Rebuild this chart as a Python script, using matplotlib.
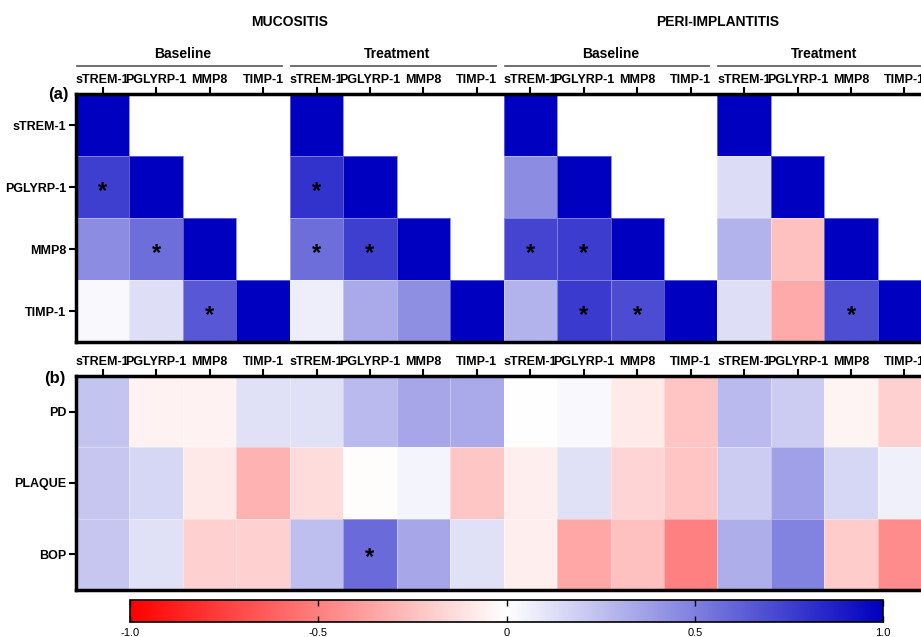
import numpy as np
import matplotlib
matplotlib.use("Agg")
import matplotlib.pyplot as plt
from matplotlib.colors import LinearSegmentedColormap
from matplotlib.lines import Line2D

plt.rcParams["font.family"] = ["Liberation Sans", "DejaVu Sans"]

markers = ["sTREM-1", "PGLYRP-1", "MMP8", "TIMP-1"]
clinical = ["PD", "PLAQUE", "BOP"]
groups = ["MUCOSITIS", "PERI-IMPLANTITIS"]
phases = ["Baseline", "Treatment"]
nan = np.nan

# (a) marker-marker correlations, lower triangle (rows/cols = markers)
muc_base = [[1.0, nan, nan, nan],
            [0.75, 1.0, nan, nan],
            [0.45, 0.57, 1.0, nan],
            [0.03, 0.13, 0.65, 1.0]]
muc_treat = [[1.0, nan, nan, nan],
             [0.80, 1.0, nan, nan],
             [0.57, 0.75, 1.0, nan],
             [0.07, 0.33, 0.44, 1.0]]
peri_base = [[1.0, nan, nan, nan],
             [0.45, 1.0, nan, nan],
             [0.73, 0.76, 1.0, nan],
             [0.30, 0.77, 0.70, 1.0]]
peri_treat = [[1.0, nan, nan, nan],
              [0.14, 1.0, nan, nan],
              [0.30, -0.25, 1.0, nan],
              [0.13, -0.33, 0.69, 1.0]]

# significant cells (row, col) in (a)
sig_muc_base = [(1, 0), (2, 1), (3, 2)]
sig_muc_treat = [(1, 0), (2, 0), (2, 1)]
sig_peri_base = [(2, 0), (2, 1), (3, 1), (3, 2)]
sig_peri_treat = [(3, 2)]

# (b) clinical-marker correlations (rows = PD, PLAQUE, BOP)
clin_muc_base = [[0.23, -0.05, -0.05, 0.12],
                 [0.22, 0.16, -0.09, -0.30],
                 [0.22, 0.12, -0.18, -0.18]]
clin_muc_treat = [[0.12, 0.27, 0.35, 0.33],
                  [-0.14, -0.01, 0.04, -0.22],
                  [0.25, 0.58, 0.35, 0.12]]
clin_peri_base = [[0.0, 0.03, -0.08, -0.23],
                  [-0.07, 0.12, -0.17, -0.23],
                  [-0.07, -0.35, -0.25, -0.50]]
clin_peri_treat = [[0.27, 0.20, -0.04, -0.18],
                   [0.20, 0.37, 0.16, 0.06],
                   [0.32, 0.49, -0.20, -0.45]]
sig_clin_muc_treat = [(2, 1)]

W, H = 921, 637
fig = plt.figure(figsize=(W / 100, H / 100), dpi=100)


def fx(px):
    return px / W


def fy(py):
    return 1 - py / H


cmap = LinearSegmentedColormap.from_list("rwb", ["#FF0000", "#FFFFFF", "#0000C0"])

left_px, cell_px = 76, 53.45
ncol = 16
ax_w = fx(cell_px * ncol)

ax_a = fig.add_axes([fx(left_px), fy(342), ax_w, (342 - 94) / H])
ax_b = fig.add_axes([fx(left_px), fy(590), ax_w, (590 - 376) / H])

data_a = np.hstack([np.array(m) for m in (muc_base, muc_treat, peri_base, peri_treat)])
data_b = np.hstack([np.array(m) for m in (clin_muc_base, clin_muc_treat,
                                          clin_peri_base, clin_peri_treat)])

for ax, data, rows in ((ax_a, data_a, markers), (ax_b, data_b, clinical)):
    mesh = ax.pcolormesh(np.ma.masked_invalid(data), cmap=cmap, vmin=-1, vmax=1,
                         edgecolors=(1, 1, 1, 0.35), linewidth=0.6)
    ax.set_xlim(0, ncol)
    ax.set_ylim(len(rows), 0)
    ax.xaxis.tick_top()
    ax.set_xticks(np.arange(ncol) + 0.5)
    ax.set_xticklabels(markers * 4, fontsize=9, fontweight="bold")
    ax.set_yticks(np.arange(len(rows)) + 0.5)
    ax.set_yticklabels(rows, fontsize=9, fontweight="bold")
    ax.tick_params(axis="both", direction="out", length=5, width=1.5, pad=2)
    ax.tick_params(axis="x", pad=1)
    for side in ("left", "top", "bottom"):
        ax.spines[side].set_linewidth(2.5)
    ax.spines["right"].set_visible(False)

# asterisks
for k, sig in enumerate((sig_muc_base, sig_muc_treat, sig_peri_base, sig_peri_treat)):
    for r, c in sig:
        ax_a.text(4 * k + c + 0.5, r + 0.57, "*", ha="center", va="center",
                  fontsize=17, fontweight="bold")
for r, c in sig_clin_muc_treat:
    ax_b.text(4 + c + 0.5, r + 0.55, "*", ha="center", va="center",
              fontsize=17, fontweight="bold")

# headers
for g, name in enumerate(groups):
    x0 = left_px + g * 8 * cell_px
    fig.text(fx(x0 + 4 * cell_px), fy(22), name, ha="center", va="center",
             fontsize=10, fontweight="bold")
    for p, ph in enumerate(phases):
        b0 = x0 + p * 4 * cell_px
        fig.text(fx(b0 + 2 * cell_px), fy(54), ph, ha="center", va="center",
                 fontsize=10, fontweight="bold")
        fig.add_artist(Line2D([fx(b0 + 1), fx(b0 + 4 * cell_px - 8)], [fy(66), fy(66)],
                              color="#555555", lw=1.2))

fig.text(fx(48), fy(95), "(a)", ha="left", va="center", fontsize=12, fontweight="bold")
fig.text(fx(44), fy(378), "(b)", ha="left", va="center", fontsize=12, fontweight="bold")

# colorbar
cax = fig.add_axes([fx(130), fy(622), fx(883 - 130), (622 - 600) / H])
cb = fig.colorbar(mesh, cax=cax, orientation="horizontal", ticks=[-1, -0.5, 0, 0.5, 1])
cb.ax.set_xticklabels(["-1.0", "-0.5", "0", "0.5", "1.0"], fontsize=8)
cb.ax.tick_params(direction="in", length=4, width=1, top=True, pad=4)
cb.outline.set_linewidth(1.2)

fig.savefig("out.png", dpi=100)
